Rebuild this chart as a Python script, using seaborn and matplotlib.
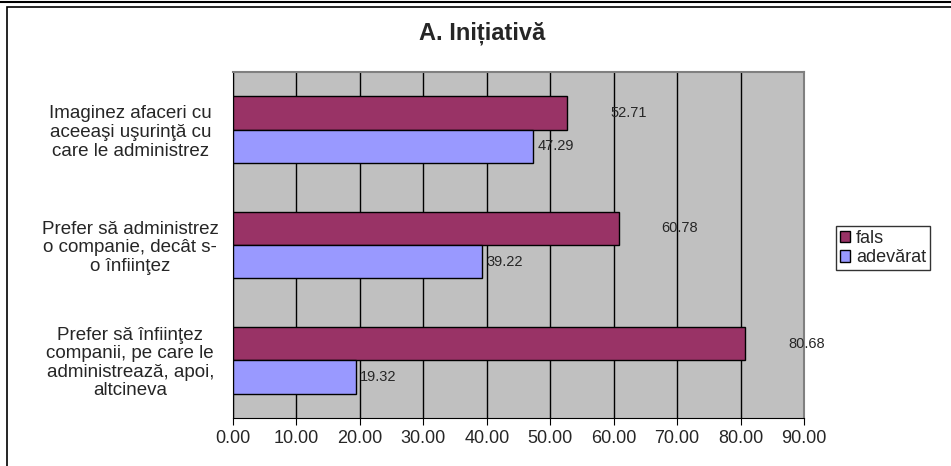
import pandas as pd
import matplotlib.pyplot as plt
import seaborn as sns
from matplotlib.patches import Rectangle
from matplotlib.ticker import MultipleLocator, FormatStrFormatter

# Data
categories = [
    "Imaginez afaceri cu\naceeaşi uşurinţă cu\ncare le administrez",
    "Prefer să administrez\no companie, decât s-\no înfiinţez",
    "Prefer să înfiinţez\ncompanii, pe care le\nadministrează, apoi,\naltcineva",
]
fals = [52.71, 60.78, 80.68]
adevarat = [47.29, 39.22, 19.32]
series = ["fals", "adevărat"]
colors = ["#993366", "#9999ff"]

df = pd.DataFrame({
    "categorie": categories * 2,
    "valoare": fals + adevarat,
    "serie": [series[0]] * 3 + [series[1]] * 3,
})

sns.set_style("white")
plt.rcParams["font.family"] = ["Liberation Sans", "DejaVu Sans"]

fig = plt.figure(figsize=(9.51, 4.66), dpi=100)
ax = fig.add_axes([233 / 951, 48 / 466, 571 / 951, 346 / 466])

sns.barplot(data=df, y="categorie", x="valoare", hue="serie", hue_order=series,
            palette=colors, orient="h", width=0.58, edgecolor="black",
            linewidth=1, saturation=1, ax=ax, zorder=3)

ax.set_facecolor("#c0c0c0")
ax.set_xlim(0, 90)
ax.set_ylim(2.5, -0.5)
ax.xaxis.set_major_locator(MultipleLocator(10))
ax.xaxis.set_major_formatter(FormatStrFormatter("%.2f"))
ax.grid(axis="x", color="black", linewidth=1, zorder=0)
ax.set_axisbelow(True)

# category labels centered left of the axis, ticks at group boundaries
ax.tick_params(axis="y", length=0, pad=74, labelsize=13.5)
for lab in ax.get_yticklabels():
    lab.set_horizontalalignment("center")
    lab.set_linespacing(1.12)
ax.set_yticks([-0.5, 0.5, 1.5, 2.5], minor=True)
ax.tick_params(axis="y", which="minor", length=5, direction="out", color="black")
ax.tick_params(axis="x", length=5, direction="out", color="black", labelsize=13, bottom=True)

ax.set_xlabel("")
ax.set_ylabel("")
for side in ["left", "bottom"]:
    ax.spines[side].set_color("black")
for side in ["top", "right"]:
    ax.spines[side].set_color("#808080")
    ax.spines[side].set_linewidth(1.5)

# value labels
ax.bar_label(ax.containers[0], fmt="%.2f", padding=31, fontsize=10.5)
ax.bar_label(ax.containers[1], fmt="%.2f", padding=3, fontsize=10.5)

fig.text(482 / 951, 1 - 33 / 466, "A. Inițiativă", ha="center", va="center",
         fontsize=17, fontweight="bold")

ax.legend(loc="upper left", bbox_to_anchor=(836 / 951, 1 - 226 / 466),
          bbox_transform=fig.transFigure, frameon=True, fancybox=False,
          edgecolor="black", fontsize=13, handlelength=0.6, handleheight=0.6,
          handletextpad=0.3, borderpad=0.2, labelspacing=0.15, borderaxespad=0)

# outer chart frame
fig.patches.append(Rectangle((7 / 951, -0.1), 1.2, 1 - 7 / 466 + 0.1,
                             transform=fig.transFigure, fill=False,
                             edgecolor="black", linewidth=1.2))
fig.lines.append(plt.Line2D([0, 1], [1 - 1.5 / 466] * 2, transform=fig.transFigure,
                            color="black", linewidth=1.5))

fig.savefig("out.png", dpi=100)
